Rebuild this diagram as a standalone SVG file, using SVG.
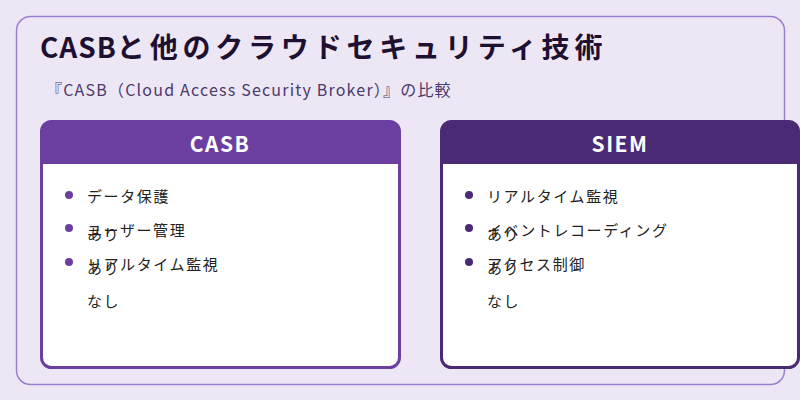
<svg xmlns="http://www.w3.org/2000/svg" width="800" height="400" viewBox="0 0 800 400">
<style>
text{font-family:"Noto Sans CJK JP","Noto Sans",sans-serif}
.t{font-size:28px;font-weight:700;fill:#1e1030;letter-spacing:4.8px}
.s{font-size:16px;fill:#4a3a6a;letter-spacing:1.2px}
.h{font-size:21px;font-weight:700;fill:#fff;text-anchor:middle;letter-spacing:1.5px}
.i{font-size:15px;fill:#222;letter-spacing:1.6px}
</style>
<rect width="800" height="400" fill="#ede7f5"/>
<rect x="16.5" y="16.5" width="768" height="368" rx="14" fill="#ede7f5" stroke="#9b7fcf" stroke-width="1.5"/>
<text class="t" x="40" y="58"><tspan style="letter-spacing:1px">CASB</tspan>と他のクラウドセキュリティ技術</text>
<text class="s" x="46" y="96">『CASB（Cloud Access Security Broker）』の比較</text>
<g id="casb">
<rect x="41.5" y="121.5" width="358" height="246" rx="10" fill="#fff" stroke="#6b3fa0" stroke-width="3"/>
<path d="M41.5 164V131.5a10 10 0 0 1 10-10H389.5a10 10 0 0 1 10 10V164Z" fill="#6b3fa0"/>
<text class="h" x="220" y="152">CASB</text>
<g fill="#6b3fa0"><circle cx="69" cy="195" r="4"/><circle cx="69" cy="228" r="4"/><circle cx="69" cy="262" r="4"/></g>
<text class="i" x="87" y="202">データ保護</text>
<text class="i" x="87" y="236">ユーザー管理</text>
<text class="i" x="87" y="240">あり</text>
<text class="i" x="87" y="270">リアルタイム監視</text>
<text class="i" x="87" y="274">あり</text>
<text class="i" x="87" y="307">なし</text>
</g>
<g id="siem">
<rect x="441.5" y="121.5" width="357" height="246" rx="10" fill="#fff" stroke="#4a2a75" stroke-width="3"/>
<path d="M441.5 164V131.5a10 10 0 0 1 10-10H788.5a10 10 0 0 1 10 10V164Z" fill="#4a2a75"/>
<text class="h" x="620" y="152">SIEM</text>
<g fill="#4a2a75"><circle cx="469" cy="195" r="4"/><circle cx="469" cy="228" r="4"/><circle cx="469" cy="262" r="4"/></g>
<text class="i" x="487" y="202">リアルタイム監視</text>
<text class="i" x="487" y="236">イベントレコーディング</text>
<text class="i" x="487" y="240">あり</text>
<text class="i" x="487" y="270">アクセス制御</text>
<text class="i" x="487" y="274">あり</text>
<text class="i" x="487" y="307">なし</text>
</g>
<g id="connectors"/>
</svg>
